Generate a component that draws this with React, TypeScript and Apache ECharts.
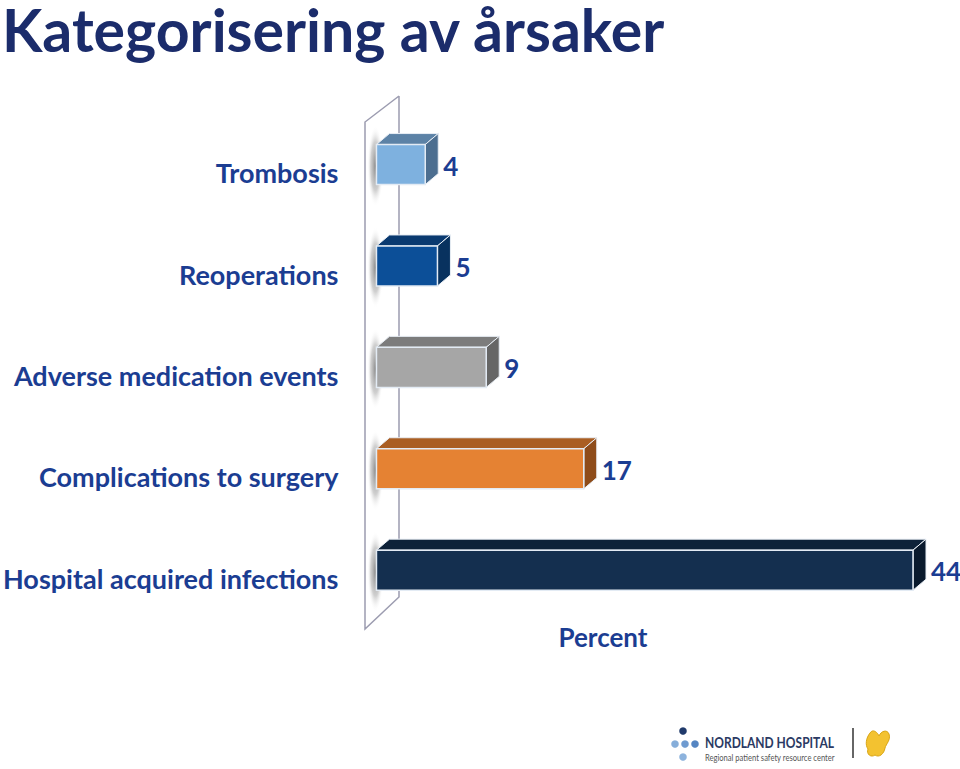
import React, { useEffect, useRef } from "react";
import * as echarts from "echarts";

const titleText = "Kategorisering av årsaker";
const categories = [
  "Trombosis",
  "Reoperations",
  "Adverse medication events",
  "Complications to surgery",
  "Hospital acquired infections",
];
const values = [4, 5, 9, 17, 44];
const axisTitle = "Percent";
const logoName = "NORDLAND HOSPITAL";
const logoSub = "Regional patient safety resource center";

const frontColors = ["#7EB1DF", "#0C4F98", "#A6A6A6", "#E58233", "#142F4F"];
const topColors = ["#5C82A6", "#0A3A70", "#7C7C7C", "#AA5E22", "#0E2239"];
const sideColors = ["#4C6E90", "#08325F", "#666666", "#8E4C1A", "#0A1A2D"];

const FONT = "Lato, 'Open Sans', sans-serif";
const LABEL_COLOR = "#1B3D92";

echarts.graphic.registerShape(
  "logoBlob",
  echarts.graphic.extendPath(
    "M6 5 C9 0 14 5 15 8 C17 3 23 1 25 6 C27 12 22 16 21 20 C20 26 15 30 11 27 C7 30 2 26 4 21 C1 17 2 10 6 5 Z",
    {}
  )
);

export default function App() {
  const ref = useRef<HTMLDivElement>(null);

  useEffect(() => {
    if (!ref.current) return;
    const chart = echarts.init(ref.current, null, { renderer: "svg" });
    const DX = 13;
    const DY = 11;

    const option: any = {
      animation: false,
      backgroundColor: "#ffffff",
      title: {
        text: titleText,
        left: 2,
        top: 0,
        padding: 0,
        textStyle: {
          fontFamily: FONT,
          fontWeight: "bold",
          fontSize: 59,
          color: "#1B2C6B",
        },
      },
      grid: { left: 375, right: 47, top: 122, bottom: 140, containLabel: false },
      xAxis: {
        type: "value",
        min: 0,
        max: 44,
        show: false,
      },
      yAxis: {
        type: "category",
        data: categories,
        inverse: true,
        axisLine: { show: false },
        axisTick: { show: false },
        splitLine: { show: false },
        axisLabel: {
          margin: 38,
          fontFamily: FONT,
          fontWeight: "bold",
          fontSize: 27,
          color: LABEL_COLOR,
        },
      },
      graphic: [
        {
          type: "polyline",
          z: 0,
          shape: { points: [[399, 96], [365, 122], [365, 629], [399, 597], [399, 96]] },
          style: { stroke: "#9C9CB0", lineWidth: 1.5, fill: "none" },
        },
        {
          type: "text",
          x: 603,
          y: 637,
          style: {
            text: axisTitle,
            fontFamily: FONT,
            fontWeight: "bold",
            fontSize: 26,
            fill: LABEL_COLOR,
            align: "center",
            verticalAlign: "middle",
          },
        },
        {
          type: "group",
          x: 0,
          y: 0,
          children: [
            { type: "circle", shape: { cx: 683, cy: 731, r: 3.8 }, style: { fill: "#203A6B" } },
            { type: "circle", shape: { cx: 675, cy: 744, r: 3.8 }, style: { fill: "#86AEDA" } },
            { type: "circle", shape: { cx: 685, cy: 744, r: 3.8 }, style: { fill: "#6F9BD0" } },
            { type: "circle", shape: { cx: 695, cy: 744, r: 3.8 }, style: { fill: "#5585C2" } },
            { type: "circle", shape: { cx: 683, cy: 757, r: 3.8 }, style: { fill: "#8DB3DD" } },
            {
              type: "text",
              x: 705,
              y: 742,
              scaleX: 0.8,
              style: {
                text: logoName,
                fontFamily: FONT,
                fontWeight: "bold",
                fontSize: 15,
                fill: "#2B3A63",
                verticalAlign: "middle",
              },
            },
            {
              type: "text",
              x: 705,
              y: 757,
              scaleX: 0.76,
              style: {
                text: logoSub,
                fontFamily: FONT,
                fontSize: 10,
                fill: "#555555",
                verticalAlign: "middle",
              },
            },
            {
              type: "line",
              shape: { x1: 853, y1: 728, x2: 853, y2: 758 },
              style: { stroke: "#333333", lineWidth: 1.5 },
            },
            {
              type: "logoBlob",
              x: 864,
              y: 728,
              style: { fill: "#F3C230", stroke: "#D9A514", lineWidth: 1 },
            },
          ],
        },
      ],
      series: [
        {
          type: "custom",
          z: 5,
          data: values.map((v, i) => [v, i]),
          encode: { x: 0, y: 1 },
          renderItem: (params: any, api: any) => {
            const v = api.value(0);
            const idx = api.value(1);
            const p0 = api.coord([0, idx]);
            const p1 = api.coord([v, idx]);
            const band = api.size([0, 1])[1];
            const h = band * 0.395;
            const off = band * 0.08;
            const cy = p0[1] - off;
            const x0 = p0[0];
            const x1 = p1[0];
            const top = cy - h / 2;
            const bottom = cy + h / 2;
            return {
              type: "group",
              children: [
                {
                  type: "rect",
                  shape: { x: x0 - 9, y: top - DY - 8, width: 16, height: h + DY + 30 },
                  style: {
                    fill: {
                      type: "radial",
                      x: 0.5,
                      y: 0.5,
                      r: 0.5,
                      colorStops: [
                        { offset: 0, color: "rgba(110,110,110,0.8)" },
                        { offset: 0.6, color: "rgba(150,150,150,0.45)" },
                        { offset: 1, color: "rgba(255,255,255,0)" },
                      ],
                    },
                  },
                },
                {
                  type: "polygon",
                  shape: {
                    points: [
                      [x0, top],
                      [x0 + DX, top - DY],
                      [x1 + DX, top - DY],
                      [x1, top],
                    ],
                  },
                  style: { fill: topColors[idx], stroke: "#E8EEF5", lineWidth: 1 },
                },
                {
                  type: "polygon",
                  shape: {
                    points: [
                      [x1, top],
                      [x1 + DX, top - DY],
                      [x1 + DX, bottom - DY],
                      [x1, bottom],
                    ],
                  },
                  style: { fill: sideColors[idx], stroke: "#E8EEF5", lineWidth: 1 },
                },
                {
                  type: "rect",
                  shape: { x: x0, y: top, width: x1 - x0, height: h },
                  style: { fill: frontColors[idx], stroke: "#E3EBF4", lineWidth: 1.5 },
                },
                {
                  type: "text",
                  x: x1 + DX + 5,
                  y: cy + 1,
                  style: {
                    text: String(v),
                    fontFamily: FONT,
                    fontWeight: "bold",
                    fontSize: 26,
                    fill: LABEL_COLOR,
                    align: "left",
                    verticalAlign: "middle",
                  },
                },
              ],
            };
          },
        },
      ],
    };

    chart.setOption(option);
    return () => chart.dispose();
  }, []);

  return (
    <div
      ref={ref}
      style={{ position: "fixed", left: 0, top: 0, width: 960, height: 769, background: "#fff" }}
    />
  );
}
